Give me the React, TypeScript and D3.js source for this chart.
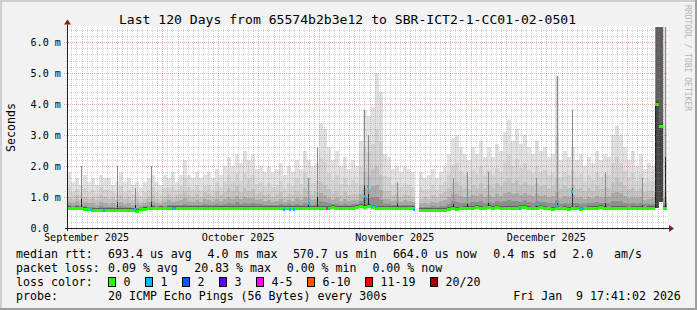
import React from "react";
import * as d3 from "d3";

// ---------- data ----------
const startTime = new Date(2025, 8, 12, 3, 0, 0);
const endTime = new Date(2026, 0, 8, 21, 0, 0);

// per-column (150 columns over the time span), values in milliseconds
const maxMs: (number | null)[] = [
  1.8, 1.5, 1.6, 1.4, 1.7, 1.5, 1.6, 1.4, 1.7, 1.6,
  1.6, 1.4, 1.5, 1.8, 1.5, 1.6, 1.4, 1.5, 1.3, 1.5,
  1.6, 1.7, 1.5, 1.4, 1.7, 1.6, 1.8, 1.5, 1.7, 2.2,
  1.7, 1.6, 1.8, 1.6, 1.7, 1.8, 1.6, 1.9, 1.7, 2.0,
  2.3, 2.0, 2.4, 2.1, 2.5, 2.2, 2.4, 1.9, 2.0, 1.8,
  2.0, 1.8, 1.9, 2.1, 1.7, 2.0, 1.8, 2.2, 1.9, 2.5,
  2.2, 2.0, 2.1, 3.4, 3.2, 2.6, 2.2, 2.5, 2.0, 2.3,
  1.9, 2.2, 2.0, 2.8, 3.8, 3.6, 3.9, 5.0, 4.4, 2.4,
  2.3, 1.9, 2.0, 1.8, 2.0, 1.9, 1.8, null, 1.8, 1.6,
  1.7, 1.9, 1.6, 1.8, 2.0, 2.4, 2.9, 3.0, 2.6, 2.4,
  2.2, 2.6, 2.4, 2.8, 2.3, 2.6, 2.3, 2.7, 2.5, 3.1,
  3.5, 2.8, 3.2, 2.7, 3.0, 2.6, 2.4, 2.8, 2.5, 2.6,
  2.3, 2.4, 4.9, 2.2, 2.5, 2.3, 2.6, 2.2, 2.4, 2.0,
  2.3, 2.1, 2.5, 2.2, 2.4, 2.3, 3.0, 3.3, 3.0, 2.6,
  2.2, 2.5, 2.0, 2.4, 1.9, 2.1, 2.0, 6.5, 6.5, 6.5,
];

const midMs: (number | null)[] = [
  1.0, 0.95, 1.05, 0.9, 1.0, 0.95, 1.0, 0.9, 1.05, 1.0,
  0.95, 1.0, 0.9, 1.05, 0.95, 1.0, 0.9, 0.95, 0.85, 0.95,
  1.0, 1.05, 0.95, 0.9, 1.0, 1.1, 1.0, 1.05, 1.1, 1.2,
  1.05, 1.0, 1.1, 1.0, 1.15, 1.1, 1.0, 1.2, 1.05, 1.15,
  1.3, 1.2, 1.35, 1.15, 1.3, 1.2, 1.25, 1.1, 1.15, 1.05,
  1.1, 1.0, 1.05, 1.15, 1.0, 1.1, 1.05, 1.2, 1.1, 1.3,
  1.2, 1.1, 1.15, 1.5, 1.4, 1.25, 1.1, 1.2, 1.05, 1.15,
  1.05, 1.1, 1.1, 1.4, 1.8, 1.7, 1.9, 2.0, 1.7, 1.2,
  1.2, 1.05, 1.1, 1.0, 1.1, 1.05, 1.0, null, 0.95, 1.0,
  0.95, 1.05, 1.0, 1.1, 1.15, 1.3, 1.45, 1.5, 1.35, 1.3,
  1.25, 1.4, 1.3, 1.45, 1.3, 1.4, 1.3, 1.45, 1.35, 1.5,
  1.6, 1.45, 1.55, 1.4, 1.5, 1.4, 1.35, 1.45, 1.35, 1.4,
  1.3, 1.35, 1.6, 1.25, 1.35, 1.3, 1.4, 1.25, 1.3, 1.2,
  1.3, 1.2, 1.35, 1.25, 1.3, 1.3, 1.5, 1.6, 1.5, 1.35,
  1.25, 1.3, 1.2, 1.3, 1.15, 1.2, 1.2, 6.5, 6.5, 1.2,
];

const medianMs: (number | null)[] = [
  0.64, 0.63, 0.64, 0.63, 0.62, 0.60, 0.58, 0.57, 0.58, 0.57,
  0.58, 0.59, 0.57, 0.58, 0.59, 0.58, 0.57, 0.56, 0.60, 0.62,
  0.63, 0.64, 0.63, 0.64, 0.63, 0.64, 0.65, 0.64, 0.64, 0.65,
  0.64, 0.65, 0.64, 0.64, 0.65, 0.64, 0.65, 0.64, 0.65, 0.64,
  0.65, 0.64, 0.65, 0.65, 0.64, 0.65, 0.64, 0.65, 0.66, 0.65,
  0.64, 0.65, 0.64, 0.65, 0.64, 0.65, 0.64, 0.65, 0.64, 0.65,
  0.65, 0.64, 0.65, 0.65, 0.66, 0.64, 0.67, 0.65, 0.66, 0.64,
  0.66, 0.65, 0.67, 0.70, 0.68, 0.72, 0.68, 0.66, 0.65, 0.64,
  0.64, 0.65, 0.64, 0.65, 0.64, 0.64, 0.65, null, 0.58, 0.57,
  0.58, 0.58, 0.57, 0.59, 0.58, 0.62, 0.66, 0.61, 0.63, 0.65,
  0.66, 0.64, 0.68, 0.66, 0.63, 0.67, 0.65, 0.68, 0.66, 0.64,
  0.65, 0.66, 0.64, 0.67, 0.69, 0.65, 0.63, 0.66, 0.67, 0.64,
  0.63, 0.62, 0.65, 0.63, 0.64, 0.62, 0.63, 0.64, 0.62, 0.63,
  0.64, 0.66, 0.65, 0.67, 0.65, 0.63, 0.66, 0.64, 0.65, 0.64,
  0.63, 0.64, 0.65, 0.64, 0.63, 0.64, 0.65, 4.0, 3.3, 0.66,
];

const minMs: (number | null)[] = [
  0.57, 0.57, 0.58, 0.57, 0.56, 0.55, 0.53, 0.52, 0.53, 0.52,
  0.53, 0.54, 0.52, 0.53, 0.54, 0.53, 0.52, 0.51, 0.54, 0.56,
  0.57, 0.58, 0.57, 0.58, 0.57, 0.58, 0.59, 0.58, 0.58, 0.59,
  0.58, 0.59, 0.58, 0.58, 0.59, 0.58, 0.59, 0.58, 0.59, 0.58,
  0.59, 0.58, 0.59, 0.59, 0.58, 0.59, 0.58, 0.59, 0.60, 0.59,
  0.58, 0.59, 0.58, 0.59, 0.58, 0.59, 0.58, 0.59, 0.58, 0.59,
  0.59, 0.58, 0.59, 0.59, 0.60, 0.58, 0.61, 0.59, 0.60, 0.58,
  0.60, 0.59, 0.61, 0.63, 0.61, 0.64, 0.61, 0.60, 0.59, 0.58,
  0.58, 0.59, 0.58, 0.59, 0.58, 0.58, 0.59, null, 0.52, 0.51,
  0.52, 0.52, 0.51, 0.53, 0.52, 0.56, 0.59, 0.55, 0.57, 0.59,
  0.60, 0.58, 0.61, 0.60, 0.57, 0.60, 0.59, 0.61, 0.60, 0.58,
  0.59, 0.60, 0.58, 0.61, 0.62, 0.59, 0.57, 0.60, 0.61, 0.58,
  0.57, 0.56, 0.59, 0.57, 0.58, 0.56, 0.57, 0.58, 0.56, 0.57,
  0.58, 0.60, 0.59, 0.61, 0.59, 0.57, 0.60, 0.58, 0.59, 0.58,
  0.57, 0.58, 0.59, 0.58, 0.57, 0.58, 0.59, 0.65, 0.85, 0.62,
];

// single-column spikes: [column position, dark top (ms), grey top (ms)]
const spikes: [number, number, number][] = [
  [3.5, 0.95, 2.0], [12.5, 0.85, 2.0], [17, 0.75, 1.3], [21, 0.85, 2.0],
  [60.25, 0.85, 1.6], [62.5, 1.0, 2.6], [74.25, 1.4, 3.8], [75.25, 1.1, 3.0],
  [82.5, 0.8, 1.5], [96.5, 0.78, 1.6], [100, 0.78, 1.8], [105.25, 0.8, 1.8],
  [117.25, 0.8, 1.6], [122.5, 0.8, 4.9], [126.25, 1.3, 3.8], [134.5, 0.8, 1.8],
  [143.75, 0.75, 1.6], [146.9, 4.0, 6.5], [149.5, 2.3, 6.5],
];

// packet-loss marks on the median: [column position, ms, lost pings]
const lossMarks: [number, number, number][] = [
  [6, 0.6, 1], [9.25, 0.57, 1], [17, 0.62, 1], [26.4, 0.64, 1], [27, 0.64, 1],
  [54.3, 0.62, 1], [55.75, 0.62, 1], [56.75, 0.62, 1], [60.5, 0.8, 1],
  [65, 0.64, 5], [74.5, 1.04, 1], [75.25, 1.36, 1], [76.25, 0.72, 1],
  [77.2, 0.7, 1], [86.75, 0.62, 1], [113.25, 0.66, 1], [117.25, 0.78, 1],
  [122.5, 0.72, 1], [126.25, 1.2, 1], [128.25, 0.63, 1], [129, 0.63, 1],
];

const lossLevels = [0, 1, 2, 3, 5, 10, 19, 20];
const lossLabels = ["0", "1", "2", "3", "4-5", "6-10", "11-19", "20/20"];
const lossColors = ["#26ff00", "#00b8ff", "#0059ff", "#5e00ff", "#ff00ff", "#ff5500", "#ff0000", "#a10000"];

const monthStarts = [new Date(2025, 9, 1), new Date(2025, 10, 1), new Date(2025, 11, 1), new Date(2026, 0, 1)];
const monthLabelDates = [new Date(2025, 8, 16), new Date(2025, 9, 16), new Date(2025, 10, 16), new Date(2025, 11, 16)];
const monthLabels = ["September 2025", "October 2025", "November 2025", "December 2025"];

const yMajor = [0, 1, 2, 3, 4, 5, 6];
const yLabels = ["0.0  ", "1.0 m", "2.0 m", "3.0 m", "4.0 m", "5.0 m", "6.0 m"];

const titleText = "Last 120 Days from 65574b2b3e12 to SBR-ICT2-1-CC01-02-0501";
const rttItems = ["693.4 us avg", "4.0 ms max", "570.7 us min", "664.0 us now", "0.4 ms sd", "2.0", "am/s"];
const lossItems = ["0.09 % avg", "20.83 % max", "0.00 % min", "0.00 % now"];
const probeText = "20 ICMP Echo Pings (56 Bytes) every 300s";
const dateText = "Fri Jan  9 17:41:02 2026";

// ---------- layout ----------
const W = 697, H = 310;
const X0 = 67, X1 = 667, XG = 668;
const Y0 = 228, Y1 = 26.5;
const MONO = "'DejaVu Sans Mono', monospace";

function colorFor(loss: number) {
  const idx = lossLevels.findIndex((l) => loss <= l);
  return lossColors[idx < 0 ? lossColors.length - 1 : idx];
}

export default function App() {
  const x = d3.scaleTime().domain([startTime, endTime]).range([X0, X1]);
  const y = d3.scaleLinear().domain([0, 6.5]).range([Y0, Y1]);
  const n = medianMs.length;
  const colT = d3.scaleLinear().domain([0, n]).range([startTime.getTime(), endTime.getTime()]);
  const cx = (i: number) => x(new Date(colT(i)));
  const px = (v: number) => Math.round(v) + 0.5;

  const minorH = d3.range(0.2, 6.5, 0.2).filter((v) => Math.abs(v - Math.round(v)) > 0.01);
  const minorV = d3.timeDay.range(startTime, endTime).filter((d) => d.getDate() !== 1);

  const cols = d3.range(n);

  const rttX = [108, 207.6, 292.9, 392.9, 493.3, 572.3, 614];
  const lossX = [108, 194.2, 286.7, 372.4];
  const swatchX = [108, 145, 182, 219, 256, 307, 365, 430];
  const lineY = [257.5, 271.8, 285.6, 299.5];

  const gridMinor = "rgba(140,140,140,0.38)";
  const gridMajor = "rgba(225,70,70,0.45)";

  return (
    <svg width={W} height={H} style={{ position: "absolute", left: 0, top: 0 }} fontFamily={MONO}>
      <defs>
        <clipPath id="plot">
          <rect x={X0} y={Y1} width={XG - X0} height={Y0 - Y1} />
        </clipPath>
      </defs>
      {/* frame */}
      <rect x={0} y={0} width={W} height={H} fill="#f2f2f2" />
      <rect x={0} y={0} width={W} height={2} fill="#cfcfcf" />
      <rect x={0} y={0} width={2} height={H} fill="#cfcfcf" />
      <rect x={0} y={H - 2} width={W} height={2} fill="#9e9e9e" />
      <rect x={W - 2} y={0} width={2} height={H} fill="#9e9e9e" />

      {/* canvas */}
      <rect x={X0} y={Y1} width={XG - X0} height={Y0 - Y1} fill="#ffffff" />

      <g clipPath="url(#plot)" shapeRendering="crispEdges">
        {cols.map((i) => {
          const mx = maxMs[i], md = midMs[i], me = medianMs[i], mn = minMs[i];
          if (mx == null || md == null || me == null || mn == null) return null;
          const xa = Math.round(cx(i)), xb = Math.round(cx(i + 1));
          const w = xb - xa;
          const heavy = md > 3;
          const tops = heavy
            ? [mx, md, me + 0.1]
            : [mx, md + (mx - md) * 0.4, md, me + (md - me) * 0.55, me + (md - me) * 0.25, me + 0.06];
          const fills = heavy
            ? ["#dadada", "#5e5e5e", "#444444"]
            : ["#e1e1e1", "#d3d3d3", "#c3c3c3", "#ababab", "#8e8e8e", "#5e5e5e"];
          return (
            <g key={i}>
              {tops.map((t, k) => (
                <rect key={k} x={xa} y={y(t)} width={w} height={Math.max(0, y(mn) - y(t))} fill={fills[k]} />
              ))}
            </g>
          );
        })}
        {spikes.map(([p, dk, lt], k) => {
          const me = medianMs[Math.min(n - 1, Math.floor(p))] ?? 0.65;
          const xs = px(cx(p));
          return (
            <g key={"s" + k}>
              <line x1={xs} x2={xs} y1={y(dk)} y2={y(lt)} stroke="#8a8a8a" strokeWidth={1} />
              <line x1={xs} x2={xs} y1={y(Math.min(me, 0.65))} y2={y(dk)} stroke="#1e1e1e" strokeWidth={1} />
            </g>
          );
        })}
        {cols.map((i) => {
          const me = medianMs[i];
          if (me == null) return null;
          const xa = Math.round(cx(i)), xb = Math.round(cx(i + 1));
          return <rect key={"m" + i} x={xa} y={Math.round(y(me)) - 1} width={xb - xa} height={3} fill={lossColors[0]} />;
        })}
        {lossMarks.map(([p, ms, l], k) => (
          <rect key={"l" + k} x={Math.round(cx(p)) - 1} y={Math.round(y(ms)) - 1} width={2} height={3} fill={colorFor(l)} />
        ))}
      </g>

      {/* grid */}
      <g fill="none" shapeRendering="crispEdges">
        {minorH.map((v, k) => (
          <line key={"mh" + k} x1={X0 - 2} x2={XG} y1={px(y(v))} y2={px(y(v))}
            stroke={gridMinor} strokeWidth={1} strokeDasharray="1,1" />
        ))}
        {minorV.map((d, k) => (
          <line key={"mv" + k} x1={px(x(d))} x2={px(x(d))} y1={Y1} y2={Y0 + 2}
            stroke={gridMinor} strokeWidth={1} strokeDasharray="1,1" />
        ))}
        {yMajor.filter((v) => v > 0).map((v) => (
          <line key={"Mh" + v} x1={X0 - 3} x2={XG} y1={px(y(v))} y2={px(y(v))}
            stroke={gridMajor} strokeWidth={1} strokeDasharray="1,1" />
        ))}
        {monthStarts.map((d, k) => (
          <line key={"Mv" + k} x1={px(x(d))} x2={px(x(d))} y1={Y1} y2={Y0 + 3}
            stroke={gridMajor} strokeWidth={1} strokeDasharray="1,1" />
        ))}
      </g>

      {/* axes */}
      <line x1={X0 - 2} x2={XG + 1} y1={Y0 + 0.5} y2={Y0 + 0.5} stroke="#1f1f1f" strokeWidth={1} />
      <line x1={X0 + 0.5} x2={X0 + 0.5} y1={Y0 + 3} y2={Y1 - 2} stroke="#1f1f1f" strokeWidth={1} />
      <path d={`M${XG + 1},${Y0 - 3} L${XG + 6},${Y0 + 0.5} L${XG + 1},${Y0 + 4} Z`} fill="#801f1f" />
      <path d={`M${X0 - 3},${Y1 - 2} L${X0 + 0.5},${Y1 - 7} L${X0 + 4},${Y1 - 2} Z`} fill="#801f1f" />

      {/* axis labels */}
      <g fontSize={10.1} fill="#000" style={{ whiteSpace: "pre" }}>
        {yMajor.map((v, k) => (
          <text key={"yl" + v} x={30.5} y={y(v) + 3.8} xmlSpace="preserve">{yLabels[k]}</text>
        ))}
        {monthLabels.map((t, k) => (
          <text key={"ml" + k} x={x(monthLabelDates[k])} y={241.3} textAnchor="middle">{t}</text>
        ))}
      </g>

      {/* title and unit */}
      <text x={347.5} y={24} fontSize={13.1} textAnchor="middle" fill="#000">{titleText}</text>
      <text transform="translate(15,127.5) rotate(-90)" fontSize={11.6} textAnchor="middle" fill="#000">Seconds</text>
      <text transform="translate(685,5) rotate(90)" fontSize={8} fill="#b4b4b4" style={{ whiteSpace: "pre" }} xmlSpace="preserve">RRDTOOL / TOBI OETIKER</text>

      {/* legend */}
      <g fontSize={11.6} fill="#000" style={{ whiteSpace: "pre" }}>
        <text x={16} y={lineY[0]}>median rtt:</text>
        {rttItems.map((t, k) => <text key={"r" + k} x={rttX[k]} y={lineY[0]}>{t}</text>)}
        <text x={16} y={lineY[1]}>packet loss:</text>
        {lossItems.map((t, k) => <text key={"p" + k} x={lossX[k]} y={lineY[1]}>{t}</text>)}
        <text x={16} y={lineY[2]}>loss color:</text>
        {lossLabels.map((t, k) => (
          <g key={"lc" + k}>
            <rect x={swatchX[k] + 0.5} y={277.5} width={7} height={9} fill={lossColors[k]} stroke="#000" strokeWidth={1} />
            <text x={swatchX[k] + 15.5} y={lineY[2]}>{t}</text>
          </g>
        ))}
        <text x={16} y={lineY[3]}>probe:</text>
        <text x={108} y={lineY[3]}>{probeText}</text>
        <text x={513.3} y={lineY[3]} xmlSpace="preserve">{dateText}</text>
      </g>
    </svg>
  );
}
